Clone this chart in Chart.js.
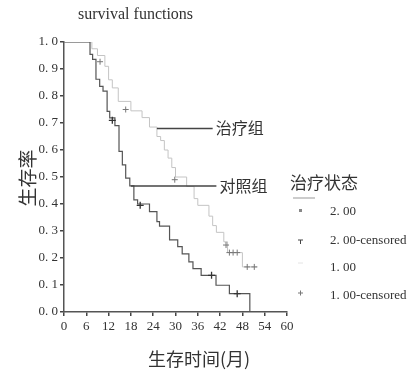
<!DOCTYPE html>
<html>
<head>
<meta charset="utf-8">
<script src="https://cdn.jsdelivr.net/npm/chart.js@4/dist/chart.umd.min.js"></script>
<style>
html,body{margin:0;padding:0;background:#fff;}
#wrap{width:409px;height:373px;position:relative;}
</style>
</head>
<body>
<div id="wrap"><canvas id="c" width="409" height="373"></canvas></div>
<script>
// Control group (对照组, 2.00): survival steps [month, survival]
const controlTimes  = [0, 7, 7.7, 8.6, 9.6, 10.5, 11.6, 12.3, 13.7, 14.8, 15.7, 16.6, 17.7, 18.8, 19.8, 23, 25, 25.7, 28.4, 30.6, 31.8, 33.6, 34.7, 36.9, 40.9, 44.5, 47.5, 50];
const controlSurv   = [1.0, 0.954, 0.936, 0.862, 0.836, 0.818, 0.743, 0.719, 0.69, 0.595, 0.545, 0.496, 0.467, 0.415, 0.40, 0.372, 0.335, 0.318, 0.267, 0.242, 0.215, 0.186, 0.161, 0.136, 0.099, 0.068, 0.068, 0.0];
const controlCensT  = [13, 20.5, 39.7, 46.6];
const controlCensS  = [0.71, 0.395, 0.136, 0.068];

// Treatment group (治疗组, 1.00)
const treatTimes = [0, 7.5, 9, 11, 12, 13, 14.6, 18, 21, 23, 25, 26, 27, 28, 29, 30, 33, 35, 36, 39, 40, 41, 43, 44, 48, 52];
const treatSurv  = [1.0, 0.975, 0.95, 0.91, 0.86, 0.83, 0.78, 0.745, 0.72, 0.685, 0.65, 0.635, 0.60, 0.57, 0.535, 0.50, 0.465, 0.42, 0.395, 0.355, 0.32, 0.295, 0.26, 0.22, 0.167, 0.167];
const treatCensT = [9.7, 16.6, 29.8, 43.6, 44.5, 45.5, 46.6, 49.3, 51.2];
const treatCensS = [0.927, 0.75, 0.49, 0.248, 0.22, 0.22, 0.22, 0.167, 0.167];

const xTicks = [0, 6, 12, 18, 24, 30, 36, 42, 48, 54, 60];
const yTicks = [0, 0.1, 0.2, 0.3, 0.4, 0.5, 0.6, 0.7, 0.8, 0.9, 1.0];

const chartTitle = 'survival functions';
const xTitle = '生存时间(月)';
const yTitle = '生存率';
// Annotation pointers: [label, x from, x to, y]
const annotLabels = ['治疗组', '对照组'];
const annotFrom   = [25, 18];
const annotTo     = [40, 41];
const annotY      = [0.68, 0.467];
const legendTitle = '治疗状态';
const legendLabels = ['2. 00', '2. 00-censored', '1. 00', '1. 00-censored'];

const pts = (xs, ys) => xs.map((x, i) => ({x: x, y: ys[i]}));

const serif = '"Liberation Serif", "DejaVu Serif", serif';
const cjk = '"Noto Sans CJK SC", "Noto Sans", sans-serif';

const extras = {
  id: 'extras',
  afterDraw(chart) {
    const ctx = chart.ctx;
    const xs = chart.scales.x, ys = chart.scales.y;
    ctx.save();
    ctx.fillStyle = '#333';
    ctx.textBaseline = 'middle';
    // title
    ctx.font = '16px ' + serif;
    ctx.textAlign = 'left';
    ctx.fillText(chartTitle, 78, 15);
    // x title
    ctx.font = '18px ' + cjk;
    ctx.textAlign = 'center';
    ctx.fillText(xTitle, 199, 359);
    // y title rotated
    ctx.save();
    ctx.translate(28, 178);
    ctx.rotate(-Math.PI / 2);
    ctx.font = '19px ' + cjk;
    ctx.fillText(yTitle, 0, 0);
    ctx.restore();
    // annotations
    ctx.strokeStyle = '#444';
    ctx.lineWidth = 1.5;
    ctx.textAlign = 'left';
    ctx.font = '16px ' + cjk;
    annotLabels.forEach((lab, i) => {
      const y = ys.getPixelForValue(annotY[i]);
      const x0 = xs.getPixelForValue(annotFrom[i]);
      const x1 = xs.getPixelForValue(annotTo[i]);
      ctx.beginPath(); ctx.moveTo(x0, y); ctx.lineTo(x1, y); ctx.stroke();
      ctx.fillText(lab, x1 + 3, y);
    });
    // legend
    ctx.font = '17px ' + cjk;
    ctx.fillText(legendTitle, 290, 183);
    ctx.strokeStyle = '#999';
    ctx.lineWidth = 1;
    ctx.beginPath(); ctx.moveTo(293, 198); ctx.lineTo(315, 198); ctx.stroke();
    ctx.font = '13px ' + serif;
    const ly = [212, 241, 268, 296];
    legendLabels.forEach((lab, i) => ctx.fillText(lab, 330, ly[i]));
    // legend markers
    ctx.fillStyle = '#888';
    ctx.fillRect(299, 209, 3, 3);
    ctx.strokeStyle = '#444';
    ctx.beginPath(); ctx.moveTo(298, 240); ctx.lineTo(303, 240); ctx.moveTo(300.5, 240); ctx.lineTo(300.5, 244); ctx.stroke();
    ctx.strokeStyle = '#e4e4e4';
    ctx.beginPath(); ctx.moveTo(298, 263); ctx.lineTo(303, 263); ctx.stroke();
    ctx.strokeStyle = '#777';
    ctx.beginPath(); ctx.moveTo(298, 293); ctx.lineTo(303, 293); ctx.moveTo(300.5, 290.5); ctx.lineTo(300.5, 295.5); ctx.stroke();
    ctx.restore();
  }
};

new Chart(document.getElementById('c'), {
  type: 'line',
  data: {
    datasets: [
      { label: '1.00', data: pts(treatTimes, treatSurv), stepped: 'before', borderColor: '#c4c4c4', borderWidth: 1, pointRadius: 0, fill: false, order: 3 },
      { label: '2.00', data: pts(controlTimes, controlSurv), stepped: 'before', borderColor: '#555', borderWidth: 1.2, pointRadius: 0, fill: false, order: 2 },
      { label: '1.00-censored', type: 'scatter', data: pts(treatCensT, treatCensS), pointStyle: 'cross', pointRadius: 3, borderColor: '#777', borderWidth: 1, order: 1 },
      { label: '2.00-censored', type: 'scatter', data: pts(controlCensT, controlCensS), pointStyle: 'cross', pointRadius: 3.5, borderColor: '#333', borderWidth: 1.3, order: 0 }
    ]
  },
  options: {
    responsive: false,
    animation: false,
    layout: { padding: { top: 42, right: 122, left: 0, bottom: 0 } },
    plugins: { legend: { display: false }, title: { display: false }, tooltip: { enabled: false } },
    scales: {
      x: {
        type: 'linear', min: 0, max: 60,
        afterBuildTicks: s => { s.ticks = xTicks.map(v => ({value: v})); },
        afterFit: s => { s.height = 61; },
        grid: { drawOnChartArea: false, drawTicks: true, tickLength: 4, color: '#444', lineWidth: 1.5 },
        border: { display: true, color: '#555', width: 1.5 },
        ticks: { color: '#333', padding: 3, font: { family: serif, size: 13 }, maxRotation: 0, autoSkip: false }
      },
      y: {
        type: 'linear', min: 0, max: 1,
        afterBuildTicks: s => { s.ticks = yTicks.map(v => ({value: v})); },
        afterFit: s => { s.width = 64; },
        grid: { drawOnChartArea: false, drawTicks: true, tickLength: 4, color: '#444', lineWidth: 1.5 },
        border: { display: true, color: '#555', width: 1.5 },
        ticks: { color: '#333', padding: 2, font: { family: serif, size: 13 }, autoSkip: false,
                 callback: v => v.toFixed(1).replace('.', '. ') }
      }
    }
  },
  plugins: [extras]
});
</script>
</body>
</html>
